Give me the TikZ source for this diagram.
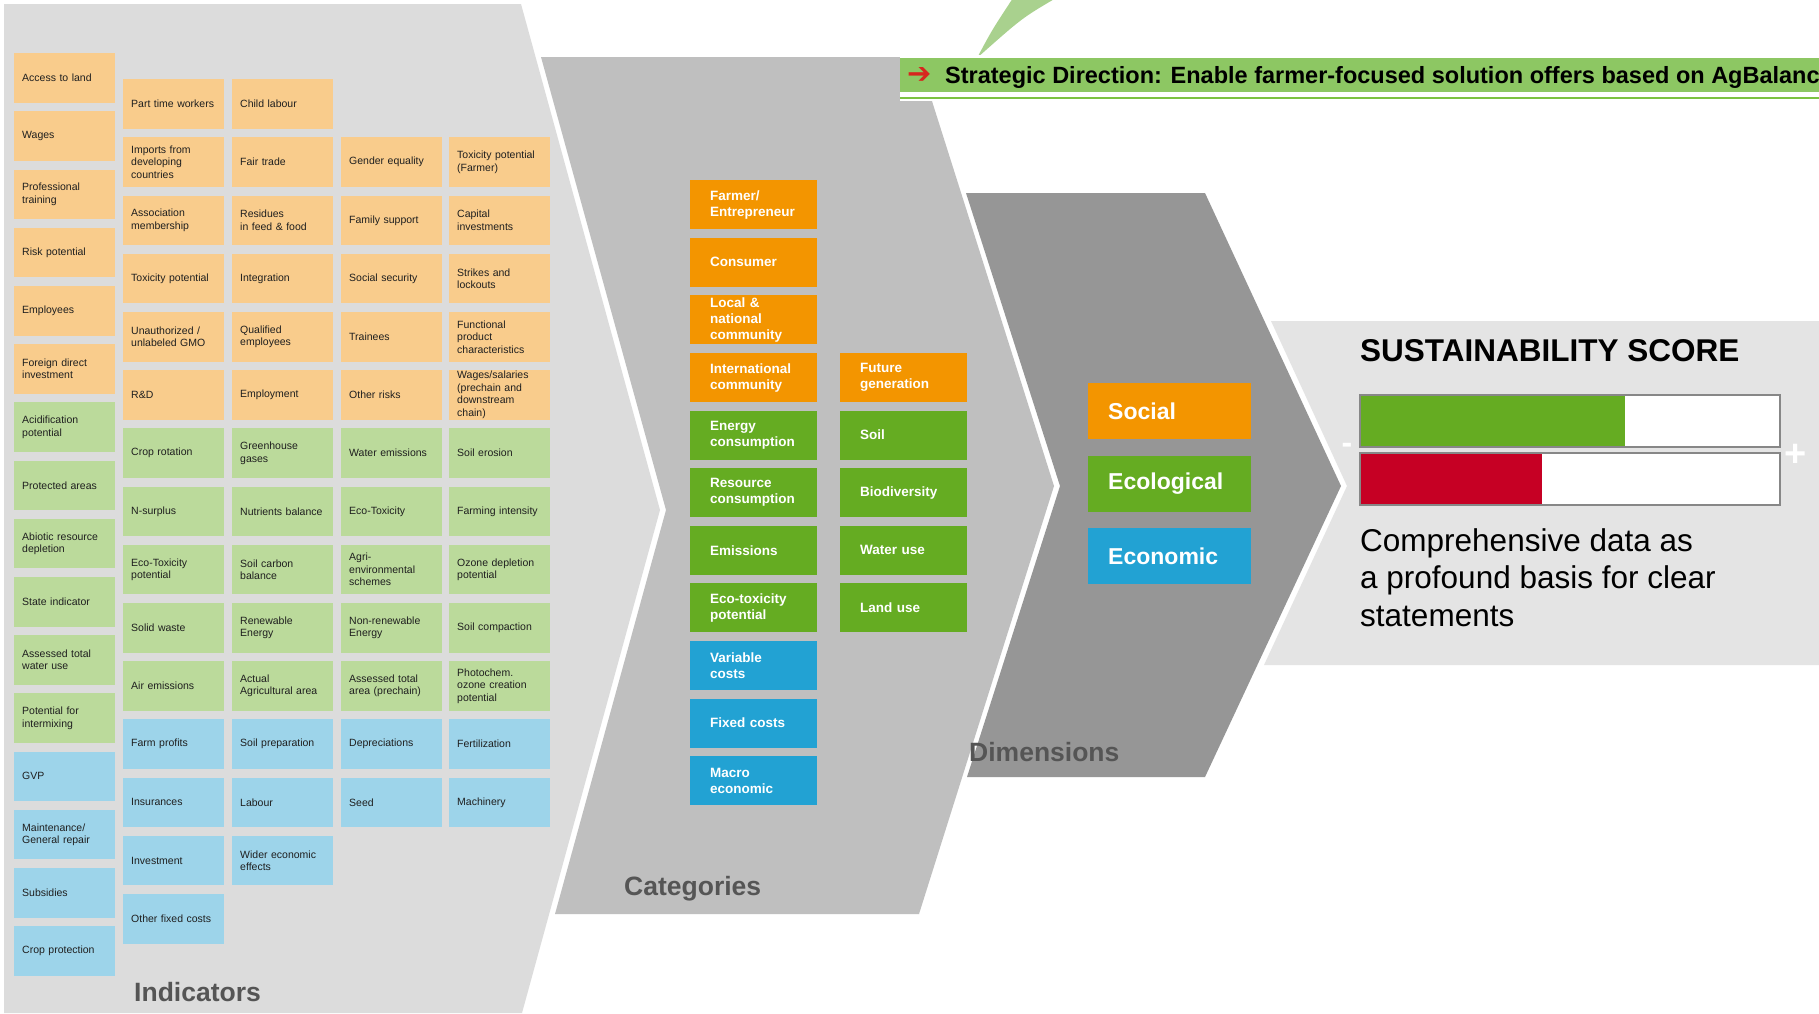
\documentclass[tikz,border=0pt]{standalone}
\usepackage{fontspec}
\setmainfont{Liberation Sans}
\newfontfamily\symfont{DejaVu Sans}
\usepackage{tikz}

\definecolor{panelA}{HTML}{DCDCDC}
\definecolor{panelB}{HTML}{BFBFBF}
\definecolor{panelC}{HTML}{969696}
\definecolor{panelD}{HTML}{E4E4E4}
\definecolor{socLight}{HTML}{F9CC8C}
\definecolor{ecoLight}{HTML}{BBDA9B}
\definecolor{ecnLight}{HTML}{9DD4EA}
\definecolor{socDark}{HTML}{F39500}
\definecolor{ecoDark}{HTML}{65AC22}
\definecolor{ecnDark}{HTML}{22A2D3}
\definecolor{scoreRed}{HTML}{C60024}
\definecolor{frameGray}{HTML}{878787}
\definecolor{barGreen}{HTML}{8DC763}
\definecolor{lineGreen}{HTML}{7CC242}
\definecolor{leafGreen}{HTML}{A9D18E}
\definecolor{arrowRed}{HTML}{D7261E}
\definecolor{labelGray}{HTML}{555555}

\begin{document}
\begin{tikzpicture}[x=1pt,y=-1pt,
  ind/.style={anchor=north west, minimum height=49.5pt, text width=85pt, inner xsep=8pt, inner ysep=0pt,
    align=left, text=black!88, font=\fontsize{10.5}{12.5}\selectfont},
  isoc/.style={ind, fill=socLight},
  ieco/.style={ind, fill=ecoLight},
  iecn/.style={ind, fill=ecnLight},
  cat/.style={anchor=north west, minimum height=49pt, text width=87pt, inner xsep=20pt, inner ysep=0pt,
    align=left, text=white, font=\bfseries\fontsize{13.5}{16}\selectfont},
  csoc/.style={cat, fill=socDark},
  ceco/.style={cat, fill=ecoDark},
  cecn/.style={cat, fill=ecnDark},
  dimbox/.style={anchor=north west, minimum height=56pt, text width=123pt, inner xsep=20pt, inner ysep=0pt,
    align=left, text=white, font=\bfseries\fontsize{23}{27}\selectfont},
  stage/.style={anchor=base west, inner sep=0pt, text=labelGray, font=\bfseries\fontsize{26.5}{30}\selectfont},
]

\useasboundingbox (0,0) rectangle (1819,1013);
\begin{scope}
\clip (0,0) rectangle (1819,1013);
\fill[white] (0,0) rectangle (1819,1013);

% the four stages
\fill[panelA] (4,4) -- (521,4) -- (660,510) -- (522,1013) -- (4,1013) -- cycle;
\fill[panelB] (541,57) -- (918,57) -- (1054,486) -- (919,914) -- (555,914) -- (666,510) -- cycle;
\fill[panelC] (966,193) -- (1205,193) -- (1341,486) -- (1205,777) -- (967,777) -- (1060,486) -- cycle;
\fill[panelD] (1271,321) -- (1830,321) -- (1830,665) -- (1264,665) -- (1347,486) -- cycle;

% leaf and strategic direction
\fill[leafGreen] (977,58) .. controls (992,30) .. (1013,-2) -- (1056,-2) .. controls (1022,18) .. (977,58) -- cycle;
\fill[white] (900,55) rectangle (1830,101);
\fill[barGreen] (900,58) rectangle (1830,92);
\draw[lineGreen, line width=2pt] (900,98) -- (1830,98);
\node[anchor=center, inner sep=0pt, text=arrowRed, font=\symfont\fontsize{29}{29}\selectfont] (arrow) at (920,75) {➔};
\node[anchor=base west, inner sep=0pt, font=\bfseries\fontsize{23.5}{26}\selectfont] (strategy) at (945,83)
  {Strategic Direction: Enable farmer-focused solution offers based on AgBalanc};

% indicators
\node[isoc] (a0) at (14,53) {Access to land};
\node[isoc] (a1) at (14,111.2) {Wages};
\node[isoc] (a2) at (14,169.4) {Professional\\training};
\node[isoc] (a3) at (14,227.6) {Risk potential};
\node[isoc] (a4) at (14,285.8) {Employees};
\node[isoc] (a5) at (14,344) {Foreign direct\\investment};
\node[ieco] (a6) at (14,402.2) {Acidification\\potential};
\node[ieco] (a7) at (14,460.4) {Protected areas};
\node[ieco] (a8) at (14,518.6) {Abiotic resource\\depletion};
\node[ieco] (a9) at (14,576.8) {State indicator};
\node[ieco] (a10) at (14,635) {Assessed total\\water use};
\node[ieco] (a11) at (14,693.2) {Potential for\\intermixing};
\node[iecn] (a12) at (14,751.4) {GVP};
\node[iecn] (a13) at (14,809.6) {Maintenance/\\General repair};
\node[iecn] (a14) at (14,867.8) {Subsidies};
\node[iecn] (a15) at (14,926) {Crop protection};

\node[isoc] (b0) at (123,79) {Part time workers};
\node[isoc] (b1) at (123,137.2) {Imports from\\developing\\countries};
\node[isoc] (b2) at (123,195.4) {Association\\membership};
\node[isoc] (b3) at (123,253.6) {Toxicity potential};
\node[isoc] (b4) at (123,311.8) {Unauthorized /\\unlabeled GMO};
\node[isoc] (b5) at (123,370) {R\&D};
\node[ieco] (b6) at (123,428.2) {Crop rotation};
\node[ieco] (b7) at (123,486.4) {N-surplus};
\node[ieco] (b8) at (123,544.6) {Eco-Toxicity\\potential};
\node[ieco] (b9) at (123,602.8) {Solid waste};
\node[ieco] (b10) at (123,661) {Air emissions};
\node[iecn] (b11) at (123,719.2) {Farm profits};
\node[iecn] (b12) at (123,777.4) {Insurances};
\node[iecn] (b13) at (123,835.6) {Investment};
\node[iecn] (b14) at (123,893.8) {Other fixed costs};

\node[isoc] (c0) at (232,79) {Child labour};
\node[isoc] (c1) at (232,137.2) {Fair trade};
\node[isoc] (c2) at (232,195.4) {Residues\\in feed \& food};
\node[isoc] (c3) at (232,253.6) {Integration};
\node[isoc] (c4) at (232,311.8) {Qualified\\employees};
\node[isoc] (c5) at (232,370) {Employment};
\node[ieco] (c6) at (232,428.2) {Greenhouse\\gases};
\node[ieco] (c7) at (232,486.4) {Nutrients balance};
\node[ieco] (c8) at (232,544.6) {Soil carbon\\balance};
\node[ieco] (c9) at (232,602.8) {Renewable\\Energy};
\node[ieco] (c10) at (232,661) {Actual\\Agricultural area};
\node[iecn] (c11) at (232,719.2) {Soil preparation};
\node[iecn] (c12) at (232,777.4) {Labour};
\node[iecn] (c13) at (232,835.6) {Wider economic\\effects};

\node[isoc] (d1) at (341,137.2) {Gender equality};
\node[isoc] (d2) at (341,195.4) {Family support};
\node[isoc] (d3) at (341,253.6) {Social security};
\node[isoc] (d4) at (341,311.8) {Trainees};
\node[isoc] (d5) at (341,370) {Other risks};
\node[ieco] (d6) at (341,428.2) {Water emissions};
\node[ieco] (d7) at (341,486.4) {Eco-Toxicity};
\node[ieco] (d8) at (341,544.6) {Agri-\\environmental\\schemes};
\node[ieco] (d9) at (341,602.8) {Non-renewable\\Energy};
\node[ieco] (d10) at (341,661) {Assessed total\\area (prechain)};
\node[iecn] (d11) at (341,719.2) {Depreciations};
\node[iecn] (d12) at (341,777.4) {Seed};

\node[isoc] (e1) at (449,137.2) {Toxicity potential\\(Farmer)};
\node[isoc] (e2) at (449,195.4) {Capital\\investments};
\node[isoc] (e3) at (449,253.6) {Strikes and\\lockouts};
\node[isoc] (e4) at (449,311.8) {Functional\\product\\characteristics};
\node[isoc] (e5) at (449,370) {Wages/salaries\\(prechain and\\downstream\\chain)};
\node[ieco] (e6) at (449,428.2) {Soil erosion};
\node[ieco] (e7) at (449,486.4) {Farming intensity};
\node[ieco] (e8) at (449,544.6) {Ozone depletion\\potential};
\node[ieco] (e9) at (449,602.8) {Soil compaction};
\node[ieco] (e10) at (449,661) {Photochem.\\ozone creation\\potential};
\node[iecn] (e11) at (449,719.2) {Fertilization};
\node[iecn] (e12) at (449,777.4) {Machinery};

\node[stage] (indicators) at (134,1001) {Indicators};

% categories
\node[csoc] (k0) at (690,180) {Farmer/\\Entrepreneur};
\node[csoc] (k1) at (690,237.6) {Consumer};
\node[csoc] (k2) at (690,295.2) {Local \&\\national\\community};
\node[csoc] (k3) at (690,352.8) {International\\community};
\node[ceco] (k4) at (690,410.4) {Energy\\consumption};
\node[ceco] (k5) at (690,468) {Resource\\consumption};
\node[ceco] (k6) at (690,525.6) {Emissions};
\node[ceco] (k7) at (690,583.2) {Eco-toxicity\\potential};
\node[cecn] (k8) at (690,640.8) {Variable\\costs};
\node[cecn] (k9) at (690,698.4) {Fixed costs};
\node[cecn] (k10) at (690,756) {Macro\\economic};

\node[csoc] (m3) at (840,352.8) {Future\\generation};
\node[ceco] (m4) at (840,410.4) {Soil};
\node[ceco] (m5) at (840,468) {Biodiversity};
\node[ceco] (m6) at (840,525.6) {Water use};
\node[ceco] (m7) at (840,583.2) {Land use};

\node[stage] (categories) at (624,895) {Categories};

% dimensions
\node[dimbox, fill=socDark] (social) at (1088,383) {Social};
\node[dimbox, fill=ecoDark] (ecological) at (1088,455.5) {Ecological};
\node[dimbox, fill=ecnDark] (economic) at (1088,528) {Economic};

\node[stage] (dimensions) at (969,761) {Dimensions};

% sustainability score
\node[anchor=base west, inner sep=0pt, font=\bfseries\fontsize{31.5}{34}\selectfont] (scoretitle) at (1360,361) {SUSTAINABILITY SCORE};

\fill[white] (1360,395) rectangle (1780,447);
\fill[ecoDark] (1360,395) rectangle (1625,447);
\draw[frameGray, line width=2pt] (1360,395) rectangle (1780,447);
\fill[white] (1360,453) rectangle (1780,505);
\fill[scoreRed] (1360,453) rectangle (1542,505);
\draw[frameGray, line width=2pt] (1360,453) rectangle (1780,505);

\node[inner sep=0pt, text=white, font=\bfseries\fontsize{32}{32}\selectfont] (minus) at (1347,448) {-};
\node[inner sep=0pt, text=white, font=\bfseries\fontsize{38}{38}\selectfont] (plus) at (1796,455) {+};

\node[anchor=north west, inner sep=0pt, align=left, font=\fontsize{31.5}{37.5}\selectfont] (statement) at (1360,528)
  {Comprehensive data as\\a profound basis for clear\\statements};
\end{scope}

\end{tikzpicture}
\end{document}
